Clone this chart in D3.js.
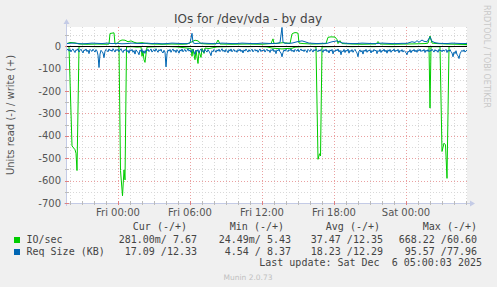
<!DOCTYPE html>
<html><head><meta charset="utf-8">
<script src="https://cdn.jsdelivr.net/npm/d3@7/dist/d3.min.js"></script>
<style>
html,body{margin:0;padding:0;background:#F0F0F0;}
svg{display:block;}
text{font-family:"DejaVu Sans",sans-serif;}
.mono{font-family:"DejaVu Sans Mono",monospace;white-space:pre;}
</style></head><body>
<script>
// ---- data (5-minute sample index, value) ----
const title = "IOs for /dev/vda - by day";
const yLabel = "Units read (-) / write (+)";
const yTicks = [0,-100,-200,-300,-400,-500,-600,-700];
const startTime = new Date(2025,11,4,19,45);
const stepMinutes = 5;
const nSteps = 400;

// IO/sec read (plotted negative)
const ioRead = [[0,1],[2,2],[5,445],[8,462],[9,478],[10,555],[12,2],[20,1],[30,2],[40,1],[50,2],[52,3],[53.5,555],[55.5,668],[57,552],[58,597],[59.5,3],[65,2],[70,4],[74,3],[75,45],[76,22],[77,60],[78,72],[79,35],[80,4],[90,2],[100,1],[110,3],[120,8],[124,10],[125,45],[126,12],[128,60],[129,18],[131,77],[132,22],[134,50],[135,10],[137,32],[138,8],[142,10],[150,3],[160,2],[170,1],[180,2],[190,1],[200,3],[205,8],[210,10],[215,12],[220,10],[225,9],[228,4],[235,2],[245,1],[249,3],[251,505],[252.5,480],[253.5,490],[255,3],[265,2],[275,1],[285,2],[295,1],[305,2],[315,1],[325,2],[335,1],[345,2],[355,1],[362,2],[363,276],[364,2],[373,2],[375,470],[377,433],[378.5,440],[380,590],[382,2],[390,1],[400,0.28]];
// IO/sec write
const ioWrite = [[0,12],[3,17],[8,15],[12,10],[20,9],[30,10],[40,9],[42,10],[43,57],[47,60],[48,10],[50,12],[52,22],[55,28],[58,27],[61,20],[64,24],[67,18],[70,14],[75,16],[80,12],[85,10],[95,9],[105,10],[115,9],[120,10],[123,16],[125,20],[128,27],[131,24],[134,12],[140,10],[149,10],[151,28],[153,10],[165,9],[180,10],[195,9],[204,12],[206,33],[207,12],[212,14],[216,16],[220,14],[223,12],[225,55],[227,60],[229,61],[231,58],[232,14],[236,12],[245,10],[255,11],[259,12],[261,40],[264,42],[268,41],[270,30],[271,12],[273,25],[275,12],[285,10],[295,9],[305,10],[309,10],[311,21],[313,10],[325,9],[340,10],[350,11],[358,12],[361,14],[363,46],[365,14],[370,12],[380,10],[390,9],[400,7.67]];
// Req size read (plotted negative)
const reqRead = [[0,18],[1,12],[2,22],[3,14],[4,25],[5,16],[6,12],[7,21],[8,28],[9,15],[10,19],[11,11],[12,26],[13,18],[14,13],[15,22],[16,30],[17,16],[18,20],[19,12],[20,24],[21,17],[22,33],[23,14],[24,19],[25,23],[26,13],[27,20],[28,26],[29,15],[30,21],[31,40],[32,95],[33,35],[34,18],[35,24],[36,30],[37,51],[38,22],[39,14],[40,19],[41,25],[42,12],[43,20],[44,16],[45,23],[46,11],[47,18],[48,26],[49,14],[50,20],[51,13],[52,24],[53,17],[54,11],[55,22],[56,28],[57,16],[58,20],[59,13],[60,25],[61,18],[62,31],[63,15],[64,21],[65,14],[66,27],[67,19],[68,35],[69,16],[70,22],[71,28],[72,38],[73,17],[74,23],[75,14],[76,29],[77,20],[78,32],[79,16],[80,21],[81,13],[82,24],[83,18],[84,12],[85,26],[86,19],[87,15],[88,23],[89,11],[90,20],[91,27],[92,15],[93,21],[94,13],[95,25],[96,30],[97,18],[98,26],[99,92],[100,34],[101,16],[102,22],[103,14],[104,27],[105,18],[106,12],[107,23],[108,17],[109,28],[110,15],[111,21],[112,31],[113,16],[114,22],[115,12],[116,25],[117,18],[118,14],[119,24],[120,19],[121,11],[122,22],[123,16],[124,27],[125,20],[126,14],[127,25],[128,36],[129,17],[130,23],[131,15],[132,30],[133,18],[134,12],[135,24],[136,19],[137,28],[138,14],[139,21],[140,26],[141,15],[142,22],[143,30],[144,42],[145,20],[146,25],[147,14],[148,19],[149,27],[150,16],[151,22],[152,13],[153,24],[154,18],[155,11],[156,23],[157,17],[158,26],[159,14],[160,20],[161,29],[162,15],[163,22],[164,12],[165,25],[166,18],[167,14],[168,24],[169,19],[170,27],[171,15],[172,21],[173,13],[174,24],[175,17],[176,30],[177,16],[178,22],[179,12],[180,20],[181,26],[182,15],[183,23],[184,18],[185,13],[186,25],[187,19],[188,14],[189,22],[190,16],[191,27],[192,18],[193,12],[194,24],[195,17],[196,21],[197,14],[198,26],[199,18],[200,13],[201,22],[202,17],[203,28],[204,15],[205,20],[206,12],[207,24],[208,18],[209,33],[210,16],[211,21],[212,13],[213,25],[214,30],[215,47],[216,28],[217,16],[218,22],[219,13],[220,19],[221,24],[222,15],[223,20],[224,12],[225,23],[226,17],[227,26],[228,14],[229,19],[230,22],[231,13],[232,25],[233,18],[234,12],[235,21],[236,16],[237,24],[238,15],[239,20],[240,28],[241,14],[242,19],[243,23],[244,13],[245,18],[246,26],[247,15],[248,21],[249,12],[250,20],[251,25],[252,16],[253,22],[254,14],[255,19],[256,27],[257,15],[258,21],[259,13],[260,24],[261,18],[262,30],[263,16],[264,22],[265,14],[266,34],[267,19],[268,24],[269,15],[270,21],[271,12],[272,26],[273,18],[274,38],[275,20],[276,25],[277,14],[278,28],[279,17],[280,22],[281,13],[282,31],[283,18],[284,24],[285,15],[286,27],[287,19],[288,14],[289,23],[290,30],[291,47],[292,22],[293,16],[294,26],[295,19],[296,35],[297,17],[298,23],[299,14],[300,27],[301,18],[302,22],[303,15],[304,30],[305,19],[306,25],[307,14],[308,21],[309,17],[310,33],[311,19],[312,24],[313,14],[314,28],[315,18],[316,22],[317,13],[318,25],[319,17],[320,31],[321,16],[322,23],[323,14],[324,27],[325,18],[326,21],[327,12],[328,25],[329,17],[330,22],[331,14],[332,29],[333,18],[334,23],[335,15],[336,26],[337,19],[338,24],[339,28],[340,38],[341,22],[342,26],[343,15],[344,29],[345,18],[346,22],[347,14],[348,25],[349,17],[350,27],[351,15],[352,21],[353,13],[354,24],[355,18],[356,22],[357,14],[358,28],[359,17],[360,23],[361,15],[362,25],[363,18],[364,22],[365,13],[366,20],[367,26],[368,15],[369,22],[370,18],[371,27],[372,14],[373,21],[374,17],[375,25],[376,16],[377,22],[378,19],[379,14],[380,28],[381,17],[382,23],[383,15],[384,24],[385,30],[386,47],[387,26],[388,33],[389,20],[390,38],[391,42],[392,55],[393,34],[394,25],[395,18],[396,24],[397,16],[398,26],[399,20],[400,17.09]];
// Req size write
const reqWrite = [[0,12],[5,14],[10,13],[15,11],[20,12],[25,14],[30,13],[35,12],[40,14],[45,12],[50,13],[55,11],[60,12],[65,14],[70,13],[75,12],[80,14],[85,12],[90,13],[95,11],[100,12],[105,14],[110,13],[115,12],[120,12],[123,14],[125,58],[126,16],[128,12],[135,14],[140,13],[145,12],[150,12],[155,14],[160,13],[165,12],[170,12],[175,14],[180,13],[185,12],[190,12],[195,14],[200,13],[205,12],[210,13],[213,16],[215,84],[216,18],[218,13],[225,14],[230,20],[235,24],[238,20],[242,14],[250,12],[255,13],[260,13],[265,20],[270,24],[275,15],[280,13],[285,12],[290,12],[295,14],[300,13],[305,12],[310,12],[315,14],[320,13],[325,12],[330,12],[335,13],[340,13],[345,20],[348,17],[350,25],[352,18],[355,28],[357,22],[360,20],[363,42],[365,22],[368,16],[372,13],[380,12],[385,14],[390,13],[395,12],[400,12.33]];

const legendHeaders = ["Cur (-/+)","Min (-/+)","Avg (-/+)","Max (-/+)"];
const seriesNames = ["IO/sec","Req Size (KB)"];
const seriesColors = ["#00CC00","#0066B3"];
const curVals = ["281.00m/ 7.67","17.09 /12.33"];
const minVals = ["24.49m/ 5.43","4.54 / 8.37"];
const avgVals = ["37.47 /12.35","18.23 /12.29"];
const maxVals = ["668.22 /60.60","95.57 /77.96"];
const lastUpdate = "Last update: Sat Dec  6 05:00:03 2025";
const footer = "Munin 2.0.73";
const sideText = "RRDTOOL / TOBI OETIKER";

// ---- drawing ----
const W=497,H=287;
const L=67,R=467,T=27,B=203;
const svg=d3.select("body").append("svg").attr("width",W).attr("height",H);
svg.append("rect").attr("width",W).attr("height",H).attr("fill","#F0F0F0");
svg.append("rect").attr("x",L).attr("y",T).attr("width",R-L).attr("height",B-T).attr("fill","#FFFFFF");

const tOf = i => new Date(startTime.getTime()+i*stepMinutes*60000);
const x=d3.scaleTime().domain([tOf(0),tOf(nSteps)]).range([L,R]);
const y=d3.scaleLinear().domain([-700,86]).range([B,T]);

// grid
const g=svg.append("g");
const minorX=d3.timeHour.every(1).range(x.domain()[0],x.domain()[1]);
const majorX=d3.timeHour.every(6).range(x.domain()[0],x.domain()[1]);
const isMajor=d=>d.getHours()%6===0;
minorX.filter(d=>!isMajor(d)).forEach(d=>{
  g.append("line").attr("x1",Math.round(x(d))+0.5).attr("x2",Math.round(x(d))+0.5).attr("y1",T).attr("y2",B)
   .attr("stroke","#d8d8d8").attr("stroke-dasharray","1,2");
});
const minorY=d3.range(-650,86,50).filter(v=>v%100!==0);
minorY.forEach(v=>{
  g.append("line").attr("x1",L).attr("x2",R).attr("y1",Math.round(y(v))+0.5).attr("y2",Math.round(y(v))+0.5)
   .attr("stroke","#d8d8d8").attr("stroke-dasharray","1,2");
});
majorX.forEach(d=>{
  g.append("line").attr("x1",Math.round(x(d))+0.5).attr("x2",Math.round(x(d))+0.5).attr("y1",T).attr("y2",B)
   .attr("stroke","#eaa0a0").attr("stroke-dasharray","1,2");
});
yTicks.forEach(v=>{
  g.append("line").attr("x1",L).attr("x2",R).attr("y1",Math.round(y(v))+0.5).attr("y2",Math.round(y(v))+0.5)
   .attr("stroke","#eaa0a0").attr("stroke-dasharray","1,2");
});

// axes lines
const axisColor="#c4cbe6";
svg.append("line").attr("x1",L-0.5).attr("x2",L-0.5).attr("y1",B+3).attr("y2",T-3).attr("stroke",axisColor);
svg.append("line").attr("x1",L-3).attr("x2",R+3).attr("y1",B+0.5).attr("y2",B+0.5).attr("stroke",axisColor);
svg.append("path").attr("d",`M${L-3.5},${T-3}L${L+2.5},${T-3}L${L-0.5},${T-8}Z`).attr("fill",axisColor);
svg.append("path").attr("d",`M${R+3},${B-2.5}L${R+3},${B+3.5}L${R+8},${B+0.5}Z`).attr("fill",axisColor);
minorX.forEach(d=>{
  svg.append("line").attr("x1",Math.round(x(d))+0.5).attr("x2",Math.round(x(d))+0.5).attr("y1",B-2).attr("y2",B+2)
   .attr("stroke",isMajor(d)?"#e08080":"#bbbbbb");
});
d3.range(-700,86,50).forEach(v=>{
  svg.append("line").attr("x1",L-2).attr("x2",L+2).attr("y1",Math.round(y(v))+0.5).attr("y2",Math.round(y(v))+0.5)
   .attr("stroke",v%100===0?"#e08080":"#bbbbbb");
});

// y labels
svg.selectAll(".ylab").data(yTicks).enter().append("text")
  .attr("x",61).attr("y",v=>y(v)+3.5).attr("text-anchor","end")
  .attr("font-size",10).attr("fill","#555").text(v=>String(v));
// x labels
svg.selectAll(".xlab").data(majorX).enter().append("text")
  .attr("x",d=>x(d)).attr("y",216).attr("text-anchor","middle")
  .attr("font-size",10).attr("fill","#555").text(d3.timeFormat("%a %H:%M"));

// series
const lineGen=sign=>d3.line().x(d=>x(tOf(d[0]))).y(d=>y(sign*d[1]));
const plot=svg.append("g");
plot.append("path").datum(ioRead).attr("d",lineGen(-1)).attr("fill","none").attr("stroke",seriesColors[0]).attr("stroke-width",1);
plot.append("path").datum(ioWrite).attr("d",lineGen(1)).attr("fill","none").attr("stroke",seriesColors[0]).attr("stroke-width",1);
plot.append("path").datum(reqRead).attr("d",lineGen(-1)).attr("fill","none").attr("stroke",seriesColors[1]).attr("stroke-width",1);
plot.append("path").datum(reqWrite).attr("d",lineGen(1)).attr("fill","none").attr("stroke",seriesColors[1]).attr("stroke-width",1);
svg.append("line").attr("x1",L).attr("x2",R).attr("y1",Math.round(y(0))+0.5).attr("y2",Math.round(y(0))+0.5).attr("stroke","#000");

// title & labels
svg.append("text").attr("x",248).attr("y",23).attr("text-anchor","middle").attr("font-size",12).attr("fill","#444").text(title);
svg.append("text").attr("transform","translate(14,115) rotate(-90)").attr("text-anchor","middle").attr("font-size",10).attr("fill","#555").text(yLabel);
svg.append("text").attr("transform","translate(484,5) rotate(90)").attr("text-anchor","start").attr("font-size",8).attr("fill","#c8c8c8").text(sideText);

// legend
const colRight=[197,291,383,477];
const headRight=[187,284,380,477];
legendHeaders.forEach((h,i)=>{
  svg.append("text").attr("class","mono").attr("x",headRight[i]).attr("y",230).attr("text-anchor","end").attr("font-size",10).attr("fill","#444").text(h);
});
const cols=[curVals,minVals,avgVals,maxVals];
seriesNames.forEach((n,r)=>{
  const yy=242.5+r*12;
  svg.append("rect").attr("x",14).attr("y",yy-5.5).attr("width",6).attr("height",6).attr("fill",seriesColors[r]);
  svg.append("text").attr("class","mono").attr("x",26.5).attr("y",yy).attr("font-size",10).attr("fill","#444").text(n);
  cols.forEach((c,i)=>{
    svg.append("text").attr("class","mono").attr("x",colRight[i]).attr("y",yy).attr("text-anchor","end").attr("font-size",10).attr("fill","#444").text(c[r]);
  });
});
svg.append("text").attr("class","mono").attr("x",482).attr("y",266).attr("text-anchor","end").attr("font-size",10).attr("fill","#444").text(lastUpdate);
svg.append("text").attr("x",248).attr("y",280).attr("text-anchor","middle").attr("font-size",7.5).attr("fill","#c0c0c0").text(footer);
</script>
</body></html>
